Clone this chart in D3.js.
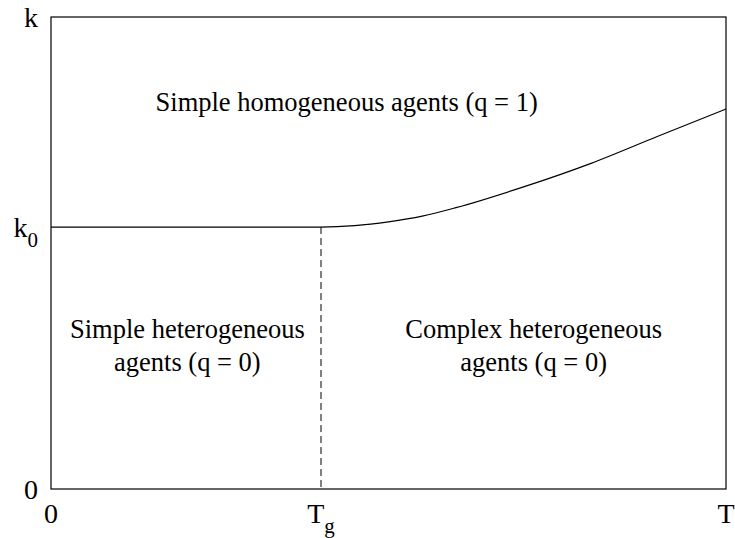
<!DOCTYPE html>
<html lang="en">
<head>
  <meta charset="UTF-8">
  <title>Agent phase diagram</title>
  <style>
    body {
      margin: 0;
      background-color: white;
      overflow: hidden;
    }

    .frame {
      fill: none;
      stroke: black;
      stroke-width: 1.2px;
    }

    .boundary {
      fill: none;
      stroke: black;
      stroke-width: 1.2px;
    }

    .tg-line {
      stroke: black;
      stroke-width: 1px;
      stroke-dasharray: 7, 4;
    }
  </style>
</head>
<body>
  <script src="https://d3js.org/d3.v7.min.js"></script>
  <script>
    const width = 735;
    const height = 538;
    const serif = "'Liberation Serif'";

    // boundary between q = 1 and q = 0 (T in units where T_max = 10, k in 0..1)
    const tValues = [0, 4, 4.5, 5, 5.5, 6, 7, 8, 9, 10];
    const kValues = [0.555, 0.555, 0.558, 0.566, 0.578, 0.596, 0.640, 0.690, 0.748, 0.805];

    const k0 = 0.555;
    const tg = 4;

    const xTickValues = [0, 4, 10];
    const xTickLabels = [["0", ""], ["T", "g"], ["T", ""]];
    const yTickValues = [0, 0.555, 1];
    const yTickLabels = [["0", ""], ["k", "0"], ["k", ""]];

    const regionLabels = [
      { t: 4.38, k: 0.80, lines: ["Simple homogeneous agents (q = 1)"] },
      { t: 2.02, k: 0.32, lines: ["Simple heterogeneous", "agents (q = 0)"] },
      { t: 7.15, k: 0.32, lines: ["Complex heterogeneous", "agents (q = 0)"] }
    ];

    const margin = { top: 17, right: 9, bottom: 49, left: 51 };

    const svg = d3.select("body").append("svg")
      .attr("width", width)
      .attr("height", height);

    const x = d3.scaleLinear()
      .domain([0, 10])
      .range([margin.left, width - margin.right]);

    const y = d3.scaleLinear()
      .domain([0, 1])
      .range([height - margin.bottom, margin.top]);

    svg.append("rect")
      .attr("class", "frame")
      .attr("x", x(0))
      .attr("y", y(1))
      .attr("width", x(10) - x(0))
      .attr("height", y(0) - y(1));

    // dashed line at T_g
    svg.append("line")
      .attr("class", "tg-line")
      .attr("x1", x(tg))
      .attr("x2", x(tg))
      .attr("y1", y(k0))
      .attr("y2", y(0));

    const line = d3.line()
      .x((d, i) => x(tValues[i]))
      .y(d => y(d))
      .curve(d3.curveMonotoneX);

    svg.append("path")
      .datum(kValues)
      .attr("class", "boundary")
      .attr("d", line);

    // region labels
    regionLabels.forEach(function(r) {
      const t = svg.append("text")
        .style("font-family", serif)
        .style("font-size", "26.5px")
        .attr("text-anchor", "middle")
        .attr("x", x(r.t))
        .attr("y", y(r.k));
      r.lines.forEach(function(s, i) {
        t.append("tspan")
          .attr("x", x(r.t))
          .attr("dy", i === 0 ? 0 : 33)
          .text(s);
      });
    });

    // x tick labels
    xTickValues.forEach(function(v, i) {
      const t = svg.append("text")
        .style("font-family", serif)
        .style("font-size", "28px")
        .attr("text-anchor", "middle")
        .attr("x", x(v))
        .attr("y", height - 15);
      t.append("tspan").text(xTickLabels[i][0]);
      if (xTickLabels[i][1]) {
        t.append("tspan")
          .attr("dy", 10)
          .style("font-size", "21px")
          .text(xTickLabels[i][1]);
      }
    });

    // y tick labels
    yTickValues.forEach(function(v, i) {
      const t = svg.append("text")
        .style("font-family", serif)
        .style("font-size", "28px")
        .attr("text-anchor", "end")
        .attr("x", 38)
        .attr("y", y(v) + 10);
      t.append("tspan").text(yTickLabels[i][0]);
      if (yTickLabels[i][1]) {
        t.append("tspan")
          .attr("dy", 10)
          .style("font-size", "21px")
          .text(yTickLabels[i][1]);
      }
    });
  </script>
</body>
</html>
